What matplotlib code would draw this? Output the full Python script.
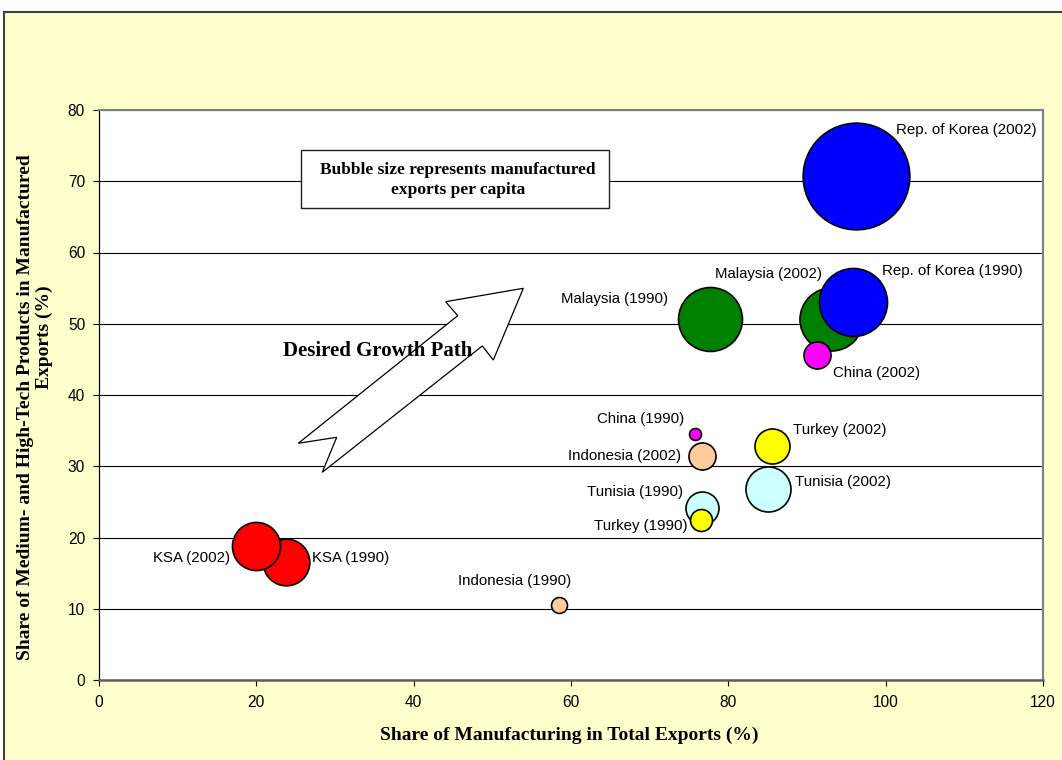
import matplotlib
matplotlib.use("Agg")
import matplotlib.pyplot as plt
from matplotlib.patches import Rectangle, Polygon

# Countries / years
labels = ["Rep. of Korea (2002)", "Malaysia (1990)", "Malaysia (2002)", "Rep. of Korea (1990)",
          "China (2002)", "Tunisia (2002)", "Turkey (2002)", "Tunisia (1990)", "Turkey (1990)",
          "Indonesia (2002)", "China (1990)", "KSA (1990)", "KSA (2002)", "Indonesia (1990)"]
# Share of manufacturing in total exports (%)
manuf_share = [96.2, 77.7, 93.0, 95.8, 91.3, 85.1, 85.6, 76.7, 76.5, 76.7, 75.8, 23.8, 19.9, 58.5]
# Share of medium- and high-tech products in manufactured exports (%)
tech_share = [70.7, 50.6, 50.6, 53.0, 45.6, 26.8, 32.8, 24.1, 22.5, 31.4, 34.5, 16.6, 18.8, 10.5]
# Manufactured exports per capita (bubble area)
exports_pc = [2950, 1060, 1030, 1200, 190, 525, 318, 282, 125, 190, 37, 565, 600, 66]
colors = ["#0000FF", "#008000", "#008000", "#0000FF", "#FF00FF", "#CCFFFF", "#FFFF00",
          "#CCFFFF", "#FFFF00", "#FFCC99", "#FF00FF", "#FF0000", "#FF0000", "#FFCC99"]
# label offsets (points) and alignment
label_dx = [29, -30, -6, 21, 11, 19, 15, -13.5, -9.6, -15.5, -8, 18.4, -18.2, 9]
label_dy = [33, 15, 32.5, 22.3, -12.7, 5.3, 11.9, 11.4, -4.5, 0, 11.2, 2.4, -8.9, 17.3]
label_ha = ["left", "right", "right", "left", "left", "left", "left", "right", "right",
            "right", "right", "left", "right", "right"]

x_ticks = [0, 20, 40, 60, 80, 100, 120]
y_ticks = [0, 10, 20, 30, 40, 50, 60, 70, 80]

SANS = "Liberation Sans"
SERIF = "Liberation Serif"
SIZE_SCALE = 2.0  # pt^2 per unit of exports per capita

W, H = 1062, 760
fig = plt.figure(figsize=(W / 100, H / 100), dpi=100)
fig.patch.set_facecolor("white")

# chart area background with border
fig.add_artist(Rectangle((4 / W, -0.02), 1.05, 1 - 12 / H + 0.02, transform=fig.transFigure,
                         facecolor="#FFFFCC", edgecolor="#404040", lw=1.5, zorder=0))

ax = fig.add_axes([99 / W, 1 - 680 / H, 944 / W, 570 / H])
ax.set_facecolor("white")
ax.set_xlim(0, 120)
ax.set_ylim(0, 80)
ax.set_xticks(x_ticks)
ax.set_yticks(y_ticks)
ax.set_xticklabels([str(t) for t in x_ticks], fontfamily=SANS, fontsize=11.2)
ax.set_yticklabels([str(t) for t in y_ticks], fontfamily=SANS, fontsize=11.2)
ax.tick_params(direction="out", length=4, width=0.8, color="black")
ax.tick_params(axis="x", pad=7)
ax.tick_params(axis="y", pad=6)
ax.yaxis.grid(True, color="black", lw=0.8, zorder=1)
ax.set_axisbelow(True)
ax.spines["left"].set_color("black")
ax.spines["left"].set_linewidth(0.9)
ax.spines["bottom"].set_color("#606060")
ax.spines["bottom"].set_linewidth(1.8)
ax.spines["top"].set_color("#808080")
ax.spines["top"].set_linewidth(1.5)
ax.spines["right"].set_color("#808080")
ax.spines["right"].set_linewidth(1.5)

# growth path arrow (axes fraction)
arrow_pts = [(0.4495, 0.6872), (0.3672, 0.6637), (0.3800, 0.6391), (0.2111, 0.4153),
             (0.2518, 0.4258), (0.2365, 0.3644), (0.4060, 0.5860), (0.4177, 0.5614)]
ax.add_patch(Polygon(arrow_pts, closed=True, transform=ax.transAxes, facecolor="white",
                     edgecolor="black", lw=0.9, zorder=2))
ax.text((283 - 99) / 944, (680 - 351) / 570, "Desired Growth Path", transform=ax.transAxes,
        fontfamily=SERIF, fontweight="bold", fontsize=15, ha="left", va="center", zorder=3)

# note box
ax.add_patch(Rectangle((0.214, 0.828), 0.326, 0.1018, transform=ax.transAxes,
                       facecolor="white", edgecolor="#202020", lw=1.0, zorder=2))
ax.text(0.3805, 0.877, "Bubble size represents manufactured\nexports per capita",
        transform=ax.transAxes, fontfamily=SERIF, fontweight="bold", fontsize=12.5,
        ha="center", va="center", linespacing=1.35, zorder=3)

# bubbles
for i in range(len(labels)):
    ax.scatter(manuf_share[i], tech_share[i], s=exports_pc[i] * SIZE_SCALE, c=colors[i],
               edgecolors="black", linewidths=1.2, zorder=3 + i * 0.01, clip_on=False)
    ax.annotate(labels[i], (manuf_share[i], tech_share[i]), xytext=(label_dx[i], label_dy[i]),
                textcoords="offset points", ha=label_ha[i], va="center",
                fontfamily=SANS, fontsize=10.8, zorder=4)

# axis titles
fig.text(569 / W, 1 - 735 / H, "Share of Manufacturing in Total Exports (%)",
         fontfamily=SERIF, fontweight="bold", fontsize=14, ha="center", va="center")
fig.text(26 / W, 1 - 407 / H, "Share of Medium- and High-Tech Products in Manufactured",
         fontfamily=SERIF, fontweight="bold", fontsize=14, rotation=90, ha="center", va="center")
fig.text(44 / W, 1 - 337 / H, "Exports (%)",
         fontfamily=SERIF, fontweight="bold", fontsize=14, rotation=90, ha="center", va="center")

fig.savefig("out.png", dpi=100)
